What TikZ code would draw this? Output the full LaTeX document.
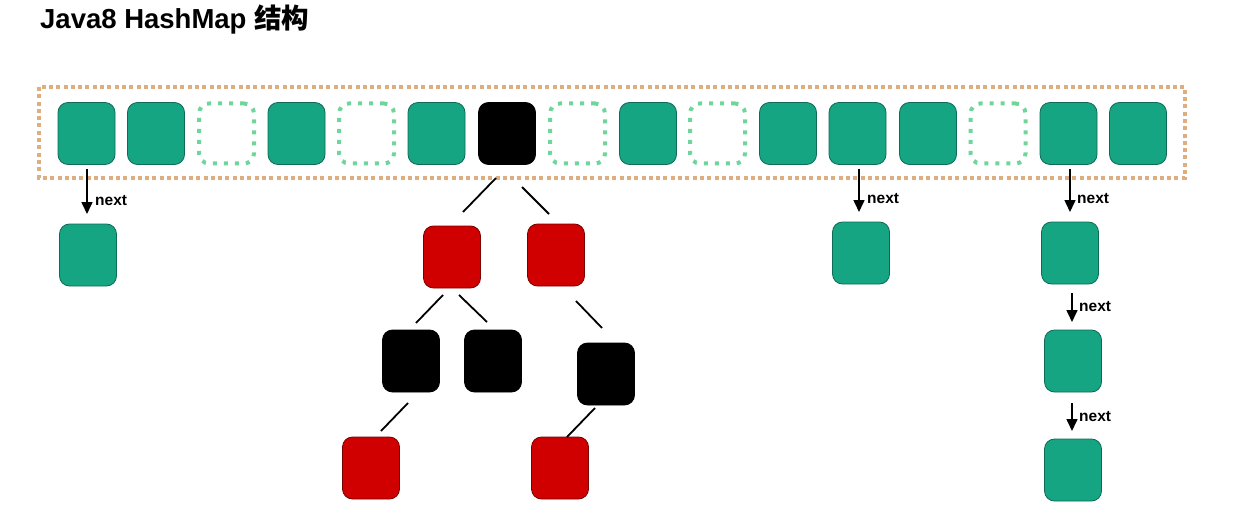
\documentclass[tikz,border=0pt]{standalone}
\usepackage{fontspec}
\setmainfont{Liberation Sans}
\newfontfamily\cjk{Noto Sans CJK SC}
\usetikzlibrary{arrows.meta}
\definecolor{cellgreen}{HTML}{16A583}
\definecolor{cellgreenborder}{HTML}{0E6B55}
\definecolor{emptygreen}{HTML}{6FD59B}
\definecolor{cellred}{HTML}{D10000}
\definecolor{cellredborder}{HTML}{7A0000}
\definecolor{tanframe}{HTML}{DDAE80}
\tikzset{
  cellbase/.style={minimum width=57pt,minimum height=62pt,rounded corners=10pt,inner sep=0pt},
  gcell/.style={cellbase,fill=cellgreen,draw=cellgreenborder,line width=0.8pt},
  ecell/.style={cellbase,minimum width=55pt,minimum height=60pt,draw=emptygreen,line width=4pt,dash pattern=on 4pt off 7pt},
  rcell/.style={cellbase,fill=cellred,draw=cellredborder,line width=0.8pt},
  kcell/.style={cellbase,fill=black,draw=black,line width=0.8pt},
  nextarrow/.style={line width=1.6pt,-{Triangle[length=12pt,width=11pt]}},
  nextlabel/.style={font=\bfseries\fontsize{15.5}{18}\selectfont,anchor=west,inner sep=0pt},
  treeline/.style={line width=1.8pt,black},
  frame/.style={draw=tanframe,line width=4pt,dash pattern=on 4pt off 3.3pt}
}
\begin{document}
\begin{tikzpicture}[x=1pt,y=-1pt]
\useasboundingbox (0,0) rectangle (1245,524);
% title
\node[anchor=base west,inner sep=0pt,font=\bfseries\fontsize{27.5}{32}\selectfont] (title) at (40,29) {Java8 HashMap {\cjk 结构}};
% outer frame
\draw[frame] (39,87) rectangle (1185,178);
% array cells
\node[gcell] (c1) at (86.5,133.5) {};
\node[gcell] (c2) at (156,133.5) {};
\node[ecell] (c3) at (226.5,133.5) {};
\node[gcell] (c4) at (296.5,133.5) {};
\node[ecell] (c5) at (366.5,133.5) {};
\node[gcell] (c6) at (436.5,133.5) {};
\node[kcell] (c7) at (507,133.5) {};
\node[ecell] (c8) at (577.5,133.5) {};
\node[gcell] (c9) at (648,133.5) {};
\node[ecell] (c10) at (717.5,133.5) {};
\node[gcell] (c11) at (788,133.5) {};
\node[gcell] (c12) at (857.5,133.5) {};
\node[gcell] (c13) at (928,133.5) {};
\node[ecell] (c14) at (998,133.5) {};
\node[gcell] (c15) at (1068.5,133.5) {};
\node[gcell] (c16) at (1138,133.5) {};
% chain from c1
\node[gcell] (a1) at (88,255) {};
\coordinate (a0s) at (87,169);
\coordinate (a0e) at (87,214);
\draw[nextarrow] (a0s) -- (a0e);
\node[nextlabel] (n1) at (95,201) {next};
% chain from c12
\node[gcell] (b1) at (861,253) {};
\coordinate (b0s) at (859,169);
\coordinate (b0e) at (859,212);
\draw[nextarrow] (b0s) -- (b0e);
\node[nextlabel] (n2) at (867,199) {next};
% chain from c15
\node[gcell] (d1) at (1070,253) {};
\node[gcell] (d2) at (1073,361) {};
\node[gcell] (d3) at (1073,470) {};
\coordinate (d0s) at (1070,169);
\coordinate (d0e) at (1070,212);
\draw[nextarrow] (d0s) -- (d0e);
\node[nextlabel] (n3) at (1077,199) {next};
\coordinate (d1s) at (1072,293);
\coordinate (d1e) at (1072,322);
\draw[nextarrow] (d1s) -- (d1e);
\node[nextlabel] (n4) at (1079,307) {next};
\coordinate (d2s) at (1072,403);
\coordinate (d2e) at (1072,431);
\draw[nextarrow] (d2s) -- (d2e);
\node[nextlabel] (n5) at (1079,417) {next};
% tree
\node[rcell] (r1) at (452,257) {};
\node[rcell] (r2) at (556,255) {};
\node[kcell] (k1) at (411,361) {};
\node[kcell] (k2) at (493,361) {};
\node[kcell] (k3) at (606,374) {};
\node[rcell] (r3) at (371,468) {};
\node[rcell] (r4) at (560,468) {};
\coordinate (t1s) at (496,178); \coordinate (t1e) at (463,212);
\coordinate (t2s) at (522,187); \coordinate (t2e) at (549,214);
\coordinate (t3s) at (443,295); \coordinate (t3e) at (416,323);
\coordinate (t4s) at (459,295); \coordinate (t4e) at (487,322);
\coordinate (t5s) at (576,301); \coordinate (t5e) at (602,328);
\coordinate (t6s) at (408,403); \coordinate (t6e) at (381,431);
\coordinate (t7s) at (595,408); \coordinate (t7e) at (567,437);
\draw[treeline] (t1s) -- (t1e);
\draw[treeline] (t2s) -- (t2e);
\draw[treeline] (t3s) -- (t3e);
\draw[treeline] (t4s) -- (t4e);
\draw[treeline] (t5s) -- (t5e);
\draw[treeline] (t6s) -- (t6e);
\draw[treeline] (t7s) -- (t7e);
\end{tikzpicture}
\end{document}
